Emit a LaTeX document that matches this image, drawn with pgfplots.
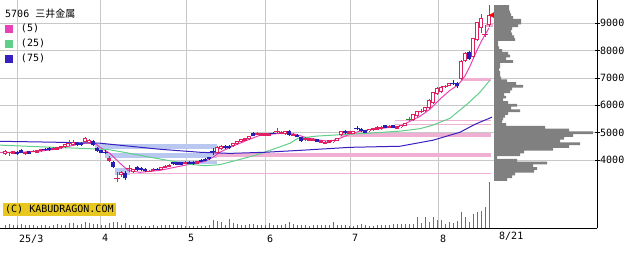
\documentclass[border=0pt]{standalone}
\usepackage{fontspec}
\setmainfont{DejaVu Sans Mono}
\newfontfamily\jp{Noto Sans CJK JP}
\usepackage{pgfplots}
\usepackage{pgfplotstable}
\pgfplotsset{compat=1.18}
\definecolor{upcol}{RGB}{224,32,96}
\definecolor{downcol}{RGB}{40,30,180}
\definecolor{ma5}{RGB}{232,64,184}
\definecolor{ma25}{RGB}{96,208,136}
\definecolor{ma75}{RGB}{56,32,192}
\definecolor{bandblue}{RGB}{184,200,240}
\definecolor{bandpink}{RGB}{240,176,212}
\definecolor{profgray}{RGB}{128,128,128}
\definecolor{volcol}{RGB}{112,100,168}
\definecolor{gridcol}{RGB}{200,200,200}
\definecolor{kabuyellow}{RGB}{232,200,32}
\definecolor{crossgreen}{RGB}{40,140,40}

\pgfplotstableread{
i o h l c t
0 4220 4360 4180 4330 1
1 4280 4290 4150 4290 3
2 4240 4350 4220 4330 2
3 4300 4330 4180 4210 4
4 4370 4400 4260 4280 4
5 4210 4310 4190 4300 2
6 4320 4340 4220 4230 4
7 4320 4360 4290 4330 3
8 4280 4380 4270 4370 2
9 4320 4420 4310 4410 2
10 4400 4430 4350 4390 5
11 4450 4470 4350 4360 4
12 4370 4470 4360 4460 2
13 4390 4490 4380 4480 2
14 4430 4530 4420 4520 2
15 4470 4600 4450 4580 1
16 4610 4730 4510 4620 3
17 4550 4730 4530 4660 1
18 4630 4660 4530 4540 4
19 4630 4650 4530 4540 4
20 4660 4840 4620 4800 1
21 4640 4770 4630 4740 1
22 4690 4730 4510 4550 4
23 4440 4480 4300 4330 4
24 4370 4380 4260 4280 4
25 4320 4360 4220 4290 5
26 3990 4150 3930 4080 2
27 3930 3980 3710 3740 4
28 3330 3560 3200 3350 3
29 3450 3600 3400 3560 1
30 3520 3600 3270 3340 4
31 3690 3820 3560 3710 3
32 3560 3690 3540 3670 1
33 3740 3780 3610 3630 4
34 3720 3740 3600 3630 4
35 3690 3710 3580 3600 4
36 3590 3650 3560 3600 3
37 3600 3700 3590 3690 2
38 3680 3720 3640 3670 5
39 3660 3760 3650 3750 1
40 3710 3810 3700 3800 2
41 3750 3850 3740 3840 2
42 3940 3950 3840 3850 4
43 3930 3940 3830 3840 4
44 3920 3930 3820 3830 4
45 3860 3960 3850 3950 2
46 3950 3960 3850 3860 4
47 3940 3960 3840 3850 4
48 3880 3990 3870 3970 2
49 4020 4030 3920 3930 4
50 4060 4070 3960 3970 4
51 4120 4130 4010 4030 4
52 4340 4440 4180 4320 5
53 4250 4510 4220 4470 1
54 4400 4550 4380 4510 1
55 4520 4540 4420 4430 4
56 4520 4540 4420 4430 4
57 4510 4640 4490 4620 1
58 4580 4710 4560 4690 1
59 4660 4790 4640 4770 1
60 4710 4820 4700 4800 2
61 4770 4890 4750 4880 1
62 4990 5020 4890 4900 4
63 4920 5020 4910 5010 2
64 4900 5000 4890 4990 2
65 4890 4990 4880 4980 2
66 4900 5000 4890 4990 2
67 4990 5020 4960 4980 5
68 5010 5170 4950 5030 3
69 4950 5060 4940 5040 2
70 4950 5080 4930 5060 1
71 5060 5100 4900 4910 4
72 4880 4980 4870 4970 2
73 4930 4940 4830 4840 4
74 4840 4860 4680 4690 4
75 4720 4830 4710 4810 2
76 4710 4810 4700 4800 2
77 4700 4800 4690 4790 2
78 4770 4780 4670 4680 4
79 4630 4740 4620 4720 2
80 4590 4690 4580 4680 2
81 4630 4730 4620 4720 2
82 4650 4750 4640 4740 1
83 4710 4820 4700 4800 1
84 4910 5080 4890 5060 1
85 5070 5090 4970 4980 4
86 4960 5060 4950 5050 2
87 4970 5080 4960 5060 1
88 5170 5240 5090 5150 5
89 5130 5160 5040 5060 4
90 5090 5100 4990 5000 4
91 5050 5150 5040 5130 1
92 5090 5190 5080 5180 2
93 5120 5240 5110 5210 2
94 5130 5240 5120 5220 2
95 5270 5280 5170 5180 4
96 5170 5280 5160 5260 2
97 5270 5290 5170 5180 4
98 5140 5250 5130 5230 2
99 5200 5300 5190 5290 1
100 5260 5370 5250 5350 1
101 5490 5570 5420 5490 6
102 5460 5700 5440 5680 1
103 5600 5810 5580 5790 1
104 5780 5860 5710 5790 3
105 5790 5950 5770 5930 1
106 5900 6220 5880 6190 1
107 6080 6500 6050 6480 1
108 6410 6660 6390 6630 1
109 6480 6700 6460 6660 1
110 6690 6760 6640 6700 3
111 6720 6830 6700 6810 1
112 6820 6920 6730 6800 5
113 6810 6850 6620 6700 4
114 6960 7650 6920 7610 1
115 7610 7940 7590 7900 1
116 7940 7980 7650 7690 4
117 7760 8460 7720 8450 1
118 8380 9050 8350 9030 1
119 8820 9330 8640 9180 1
120 8560 8930 8480 8580 3
121 8930 9660 8850 9290 1
}\candles

\pgfplotstableread{
i v
0 3
1 4
2 3
3 3
4 4
5 3
6 3
7 3
8 2
9 3
10 3
11 2
12 3
13 4
14 3
15 3
16 5
17 5
18 3
19 4
20 6
21 5
22 4
23 4
24 3
25 3
26 5
27 6
28 6
29 3
30 5
31 3
32 3
33 3
34 2
35 2
36 2
37 3
38 2
39 3
40 3
41 3
42 3
43 3
44 3
45 2
46 2
47 2
48 2
49 2
50 2
51 3
52 8
53 7
54 6
55 3
56 9
57 5
58 4
59 3
60 3
61 4
62 4
63 3
64 3
65 3
66 5
67 3
68 3
69 3
70 4
71 6
72 4
73 3
74 3
75 3
76 2
77 3
78 3
79 3
80 3
81 3
82 6
83 3
84 3
85 3
86 2
87 2
88 3
89 4
90 3
91 2
92 2
93 3
94 3
95 3
96 3
97 4
98 4
99 4
100 4
101 4
102 4
103 11
104 5
105 11
106 6
107 11
108 8
109 8
110 4
111 6
112 5
113 7
114 16
115 11
116 6
117 14
118 16
119 17
120 21
121 46
}\volume

\pgfplotstableread{
p len
9600 15
9500 15
9400 16
9300 17
9200 19
9100 27
9000 27
8900 24
8800 18
8700 17
8600 18
8500 20
8400 21
8300 4
8200 4
8100 5
8000 8
7900 14
7800 16
7700 12
7600 19
7500 6
7400 6
7300 5
7200 6
7100 6
7000 7
6900 13
6800 22
6700 29
6600 18
6500 16
6400 10
6300 12
6200 9
6100 14
6000 23
5900 17
5800 26
5700 14
5600 11
5500 9
5400 8
5300 12
5200 51
5100 75
5000 99
4900 79
4800 70
4700 66
4600 86
4500 75
4400 59
4300 30
4200 26
4100 3
4000 23
3900 53
3800 39
3700 43
3600 40
3500 21
3400 18
3300 13
}\profile

\pgfplotsset{
  candle/.style n args={3}{forget plot, draw=none, mark=none,
    restrict expr to domain={\thisrow{t}}{#1},
    error bars/.cd, y dir=plus, y explicit, error mark=none,
    error bar style={draw=#2, line width=#3}},
}

\begin{document}
\begin{tikzpicture}
\path[use as bounding box] (0,0) rectangle (640bp,255bp);
\begin{axis}[
  name=main, at={(0bp,27bp)}, anchor=south west,
  scale only axis, width=597bp, height=228bp,
  xmin=-1.25, xmax=148, ymin=1530, ymax=9840,
  axis x line*=bottom, axis y line*=right,
  axis line style={black, line width=0.8bp, -},
  xtick={3,23.75,45.25,65,86.25,108.25},
  xticklabels={25/3,4,5,6,7,8},
  extra x ticks={123}, extra x tick labels={8/21},
  extra x tick style={grid=none, major tick length=0pt},
  ytick={4000,5000,6000,7000,8000,9000},
  grid=major, grid style={gridcol, line width=0.8bp},
  xtick style={draw=none},
  ytick style={black, line width=0.6bp},
  major tick length=5bp, tick align=center,
  tick label style={font=\fontsize{10bp}{12bp}\selectfont},
  xticklabel style={anchor=north west, inner sep=0pt, yshift=-4bp, xshift=2bp},
  yticklabel style={anchor=west, inner sep=0pt, xshift=0.5bp},
  /pgf/number format/assume math mode=true,
  /pgf/number format/1000 sep={},
  legend style={at={(0,1)}, anchor=north west, xshift=5bp, yshift=-24bp,
    draw=none, fill=none, inner sep=0pt, outer sep=0pt, row sep=5bp,
    font=\fontsize{10bp}{12bp}\selectfont,
    nodes={inner sep=0pt, text height=7.5bp, text depth=2.5bp},
    /tikz/every odd column/.append style={column sep=8bp}},
  legend cell align=left,
  legend image code/.code={\fill[#1] (0bp,-3.5bp) rectangle (7bp,3.5bp);},
]
% bands
\addplot[fill=bandblue, draw=none, forget plot] coordinates {(22.5,4400) (53,4400) (53,4580) (22.5,4580)};
\addplot[fill=bandblue, draw=none, forget plot] coordinates {(25,4070) (53,4070) (53,4250) (25,4250)};
\addplot[fill=bandblue, draw=none, forget plot] coordinates {(27.5,3450) (31.25,3450) (31.25,3710) (27.5,3710)};
\addplot[fill=bandblue, draw=none, forget plot] coordinates {(42.5,3850) (53,3850) (53,3960) (42.5,3960)};
\addplot[fill=bandpink, draw=none, forget plot] coordinates {(52,4110) (121.5,4110) (121.5,4270) (52,4270)};
\addplot[fill=bandpink, draw=none, forget plot] coordinates {(83.75,4840) (121.5,4840) (121.5,4990) (83.75,4990)};
\addplot[fill=bandpink, draw=none, forget plot] coordinates {(31.25,3510) (121.5,3510) (121.5,3545) (31.25,3545)};
\addplot[fill=bandpink, draw=none, forget plot] coordinates {(97.5,5420) (121.5,5420) (121.5,5455) (97.5,5455)};
\addplot[fill=bandpink, draw=none, forget plot] coordinates {(97.5,5280) (121.5,5280) (121.5,5315) (97.5,5315)};
\addplot[fill=bandpink, draw=none, forget plot] coordinates {(114.25,6880) (121.5,6880) (121.5,6990) (114.25,6990)};
\addplot[fill=bandpink, draw=none, forget plot] coordinates {(120.25,8850) (122,8850) (122,9000) (120.25,9000)};
% moving averages
\addplot[color=ma5, line width=1bp, mark=none] coordinates {
(-1.25,4290) (3.75,4290) (8.75,4330) (12.5,4400) (15,4470) (17.5,4560) (20,4620) (22.5,4620)
(23.75,4470) (26.25,4250) (28.75,3890) (30.75,3630) (33.75,3560) (38.75,3630) (45,3820)
(50,3960) (52,4110) (53.75,4290) (56.25,4470) (58.75,4620) (61.25,4770) (63.75,4910)
(66.25,4950) (70,4990) (72.5,4950) (75,4840) (78.75,4730) (81.25,4690) (83.75,4800)
(86.25,4950) (88.75,5060) (92.5,5130) (96.25,5200) (98.75,5240) (101.25,5420) (103.75,5600)
(106.25,5860) (108.75,6230) (111.25,6550) (113.25,6740) (115,7070) (116.25,7430) (118,8010)
(119.25,8380) (121,8820)};
\addlegendentry{(5)}
\addplot[color=ma25, line width=1bp, mark=none] coordinates {
(-1.25,4550) (8.75,4490) (21.25,4420) (26.25,4380) (31.25,4250) (36.25,4110) (41.25,3980)
(46.25,3850) (50,3800) (53.75,3840) (58.75,4030) (62.5,4180) (66.25,4360) (71.25,4620)
(73.25,4800) (78,4880) (83.75,4930) (91.25,4990) (98.75,5060) (103.75,5150) (107,5280)
(111.25,5530) (115.5,6040) (118.75,6480) (121.25,6920)};
\addlegendentry{(25)}
\addplot[color=ma75, line width=1bp, mark=none] coordinates {
(-1.25,4690) (11.25,4660) (23.75,4620) (31.25,4510) (38.75,4400) (48.75,4290) (56.25,4250)
(65,4290) (73.75,4360) (86.25,4470) (98.75,4510) (107,4730) (113.75,5020) (117.5,5310)
(121.75,5570)};
\addlegendentry{(75)}
% wicks
\addplot[candle={0.5:3.5}{upcol}{0.9bp}]
  table[x=i, y=l, y error plus expr={\thisrow{h}-\thisrow{l}}] {\candles};
\addplot[candle={3.5:5.5}{downcol}{0.9bp}]
  table[x=i, y=l, y error plus expr={\thisrow{h}-\thisrow{l}}] {\candles};
\addplot[candle={5.5:6.5}{crossgreen}{0.9bp}]
  table[x=i, y=l, y error plus expr={\thisrow{h}-\thisrow{l}}] {\candles};
% up bodies
\addplot[candle={0.5:2.5}{upcol}{4.2bp}]
  table[x=i, y=o, y error plus expr={\thisrow{c}-\thisrow{o}}] {\candles};
\addplot[candle={0.5:1.5}{white}{2.2bp}, error bar style={shorten <=1bp, shorten >=1bp}]
  table[x=i, y=o, y error plus expr={\thisrow{c}-\thisrow{o}}] {\candles};
% down bodies
\addplot[candle={3.5:4.5}{downcol}{4bp}]
  table[x=i, y=c, y error plus expr={\thisrow{o}-\thisrow{c}}] {\candles};
% crosses
\addplot[forget plot, only marks, mark=-, mark size=3bp, mark options={draw=upcol, line width=1bp},
  restrict expr to domain={\thisrow{t}}{2.5:3.5}] table[x=i, y=c] {\candles};
\addplot[forget plot, only marks, mark=-, mark size=3bp, mark options={draw=downcol, line width=1bp},
  restrict expr to domain={\thisrow{t}}{4.5:5.5}] table[x=i, y=c] {\candles};
\addplot[forget plot, only marks, mark=-, mark size=3bp, mark options={draw=crossgreen, line width=1bp},
  restrict expr to domain={\thisrow{t}}{5.5:6.5}] table[x=i, y=c] {\candles};
% current price marker
\addplot[forget plot, only marks, mark=triangle*, mark size=3.5bp,
  mark options={rotate=90, fill=red, draw=red}] coordinates {(122,9290)};
\node[anchor=west, inner sep=0pt, font=\fontsize{10bp}{12bp}\selectfont] at (rel axis cs:0.00838,0.9386) {5706 {\jp 三井金属}};
\node[anchor=south west, fill=kabuyellow, inner xsep=2bp, inner ysep=2bp, font=\fontsize{10bp}{12bp}\selectfont] at (rel axis cs:0.005,0.052) {(C) KABUDRAGON.COM};
\end{axis}
% volume
\begin{axis}[
  at={(0bp,27bp)}, anchor=south west,
  scale only axis, width=597bp, height=228bp,
  xmin=-1.25, xmax=148, ymin=0, ymax=228, hide axis]
\addplot[ycomb, color=volcol, line width=1bp, mark=none] table[x=i, y=v] {\volume};
\end{axis}
% price-by-volume profile
\begin{axis}[
  at={(0bp,27bp)}, anchor=south west,
  scale only axis, width=597bp, height=228bp,
  xmin=-494, xmax=103, ymin=1530, ymax=9840, hide axis,
  xbar, bar width=100]
\addplot[fill=profgray, draw=none] table[x=len, y=p] {\profile};
\end{axis}
\end{tikzpicture}
\end{document}
